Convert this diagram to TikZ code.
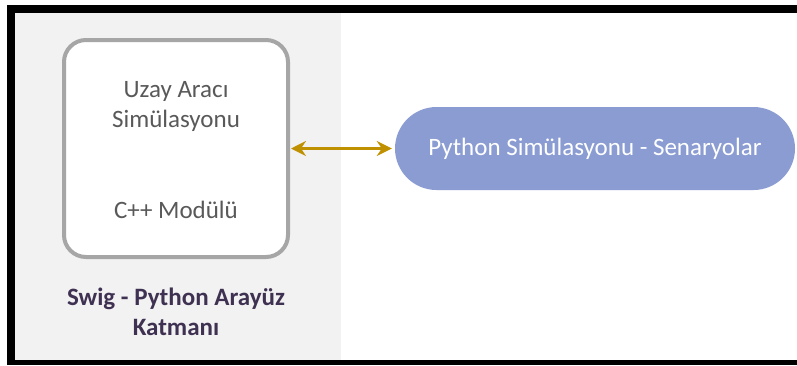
\documentclass[tikz,border=0pt]{standalone}
\usepackage{fontspec}
\setmainfont{Carlito}
\usetikzlibrary{arrows.meta}
\definecolor{panelgray}{HTML}{F2F2F2}
\definecolor{boxedge}{HTML}{A6A6A6}
\definecolor{txtgray}{HTML}{595959}
\definecolor{purpletxt}{HTML}{3F3151}
\definecolor{pillblue}{HTML}{8A9CD2}
\definecolor{goldarrow}{HTML}{BF9000}
\tikzset{
  modbox/.style={draw=boxedge, line width=4pt, fill=white, rounded corners=22pt,
    minimum width=224pt, minimum height=217pt, inner sep=0pt},
  pill/.style={fill=pillblue, rounded corners=41.5pt, minimum width=400pt,
    minimum height=83pt, inner sep=0pt, text=white,
    font=\fontsize{25}{30}\selectfont},
  boxtext/.style={text=txtgray, align=center, font=\fontsize{25}{30}\selectfont, inner sep=0pt},
  layertext/.style={text=purpletxt, align=center, font=\fontsize{25}{30}\selectfont\bfseries, inner sep=0pt},
  link/.style={goldarrow, line width=2.4pt, {Stealth[length=15pt,width=15pt,inset=5pt]}-{Stealth[length=15pt,width=15pt,inset=5pt]}}
}
\begin{document}
\begin{tikzpicture}[x=1pt,y=-1pt]
\useasboundingbox (0,0) rectangle (797,365);
% frame
\fill[white] (0,0) rectangle (797,365);
\fill[panelgray] (15,13) rectangle (341,360);
\fill[black] (7,5) rectangle (797,13);
\fill[black] (7,5) rectangle (15,365);
\fill[black] (7,360) rectangle (797,365);
% nodes
\node[modbox] (mod) at (176,148.5) {};
\node[boxtext] (t1) at (176,106) {Uzay Aracı\\Simülasyonu};
\node[boxtext] (t2) at (176,210) {C++ Modülü};
\node[layertext] (layer) at (176,312) {Swig - Python Arayüz\\Katmanı};
\node[pill] (py) at (595,148.5) {Python Simülasyonu - Senaryolar};
% connector
\draw[link] ([xshift=1pt]mod.east) -- ([xshift=-3pt]py.west);
\end{tikzpicture}
\end{document}
